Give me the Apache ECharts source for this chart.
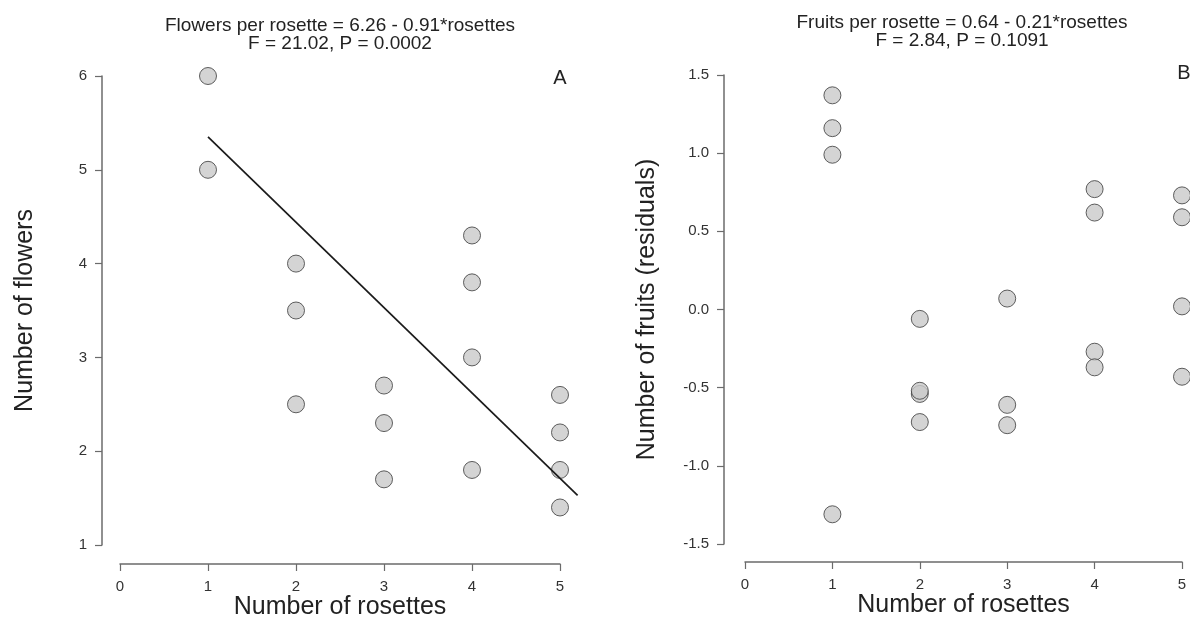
<!DOCTYPE html>
<html>
<head>
<meta charset="utf-8">
<script src="https://cdn.jsdelivr.net/npm/echarts@6/dist/echarts.min.js"></script>
<style>
  html, body { margin: 0; padding: 0; background: #fff; }
  #chart { width: 1190px; height: 617px; }
</style>
</head>
<body>
<div id="chart"></div>
<script>
// Panel A: flowers per rosette
const rosettesA = [1, 1, 2, 2, 2, 3, 3, 3, 4, 4, 4, 4, 5, 5, 5, 5];
const flowers = [6, 5, 4, 3.5, 2.5, 2.7, 2.3, 1.7, 4.3, 3.8, 3.0, 1.8, 2.6, 2.2, 1.8, 1.4];
// fitted line endpoints
const fitX = [1, 5.2];
const fitY = [5.35, 1.53];

// Panel B: fruit residuals
const rosettesB = [1, 1, 1, 1, 2, 2, 2, 2, 3, 3, 3, 4, 4, 4, 4, 5, 5, 5, 5];
const fruitsResid = [1.37, 1.16, 0.99, -1.31, -0.06, -0.54, -0.52, -0.72, 0.07, -0.61, -0.74, 0.77, 0.62, -0.27, -0.37, 0.73, 0.59, 0.02, -0.43];

// axis ranges / tick labels
const xTicks = [0, 1, 2, 3, 4, 5];
const yTicksA = [1, 2, 3, 4, 5, 6];
const yTicksB = [-1.5, -1.0, -0.5, 0.0, 0.5, 1.0, 1.5];

const titlesA = ['Flowers per rosette = 6.26 - 0.91*rosettes', 'F = 21.02, P = 0.0002'];
const titlesB = ['Fruits per rosette = 0.64 - 0.21*rosettes', 'F = 2.84, P = 0.1091'];

const font = 'Liberation Sans, Arial, sans-serif';
const axisColor = '#6b6b6b';

function pairs(xs, ys) {
  return xs.map((x, i) => [x, ys[i]]);
}

function xAxisFor(gridIndex, offset) {
  return {
    type: 'value', gridIndex: gridIndex,
    min: xTicks[0], max: xTicks[xTicks.length - 1], interval: 1,
    offset: offset,
    name: 'Number of rosettes', nameLocation: 'middle', nameGap: 31, nameMoveOverlap: false,
    nameTextStyle: { fontSize: 25, color: '#222', fontFamily: font },
    axisLine: { show: true, onZero: false, lineStyle: { color: axisColor, width: 1.5 } },
    axisTick: { show: true, length: 7, lineStyle: { color: axisColor, width: 1.2 } },
    axisLabel: { margin: 15, fontSize: 15, color: '#333', fontFamily: font },
    splitLine: { show: false }
  };
}

function yAxisFor(gridIndex, ticks, offset, name, fmt) {
  return {
    type: 'value', gridIndex: gridIndex,
    min: ticks[0], max: ticks[ticks.length - 1], interval: ticks[1] - ticks[0],
    offset: offset,
    name: name, nameLocation: 'middle', nameGap: 64, nameMoveOverlap: false,
    nameTextStyle: { fontSize: 25, color: '#222', fontFamily: font },
    axisLine: { show: true, onZero: false, lineStyle: { color: axisColor, width: 1.5 } },
    axisTick: { show: true, length: 7, lineStyle: { color: axisColor, width: 1.2 } },
    axisLabel: { margin: 15, fontSize: 15, color: '#333', fontFamily: font, formatter: fmt },
    splitLine: { show: false }
  };
}

// hidden axes for the overlay grid that carries the fitted line past x = 5
function hiddenAxis(gridIndex, min, max) {
  return {
    type: 'value', gridIndex: gridIndex, min: min, max: max,
    show: false, axisLine: { onZero: false }, splitLine: { show: false }
  };
}

const pointStyle = { color: '#c9c9c9', borderColor: '#3a3a3a', borderWidth: 1 };

function textEl(text, x, y, size) {
  return {
    type: 'text', x: x, y: y,
    style: { text: text, align: 'center', verticalAlign: 'middle', fontSize: size, fontFamily: font, fill: '#222' }
  };
}

const gridA = { left: 120, top: 76, width: 440, height: 469, outerBoundsMode: 'none', containLabel: false };
const gridB = { left: 745, top: 75, width: 437, height: 469, outerBoundsMode: 'none', containLabel: false };
// overlay grid: same scale as grid A, but reaching to x = 5.2
const gridFit = { left: 120, top: 76, width: 440 * 5.2 / 5, height: 469, outerBoundsMode: 'none', containLabel: false };

const chart = echarts.init(document.getElementById('chart'));
chart.setOption({
  animation: false,
  backgroundColor: '#fff',
  grid: [gridA, gridB, gridFit],
  xAxis: [xAxisFor(0, 19), xAxisFor(1, 18), hiddenAxis(2, 0, 5.2)],
  yAxis: [
    yAxisFor(0, yTicksA, 18, 'Number of flowers', v => String(v)),
    yAxisFor(1, yTicksB, 21, 'Number of fruits (residuals)', v => v.toFixed(1)),
    hiddenAxis(2, yTicksA[0], yTicksA[yTicksA.length - 1])
  ],
  graphic: [
    textEl(titlesA[0], 340, 26, 19),
    textEl(titlesA[1], 340, 44, 19),
    textEl(titlesB[0], 962, 23, 19),
    textEl(titlesB[1], 962, 41, 19),
    textEl('A', 560, 78, 20),
    textEl('B', 1184, 73, 20)
  ],
  series: [
    {
      type: 'scatter', xAxisIndex: 0, yAxisIndex: 0,
      data: pairs(rosettesA, flowers),
      symbol: 'circle', symbolSize: 17, clip: false,
      itemStyle: pointStyle, z: 2
    },
    {
      type: 'line', xAxisIndex: 2, yAxisIndex: 2,
      data: pairs(fitX, fitY),
      showSymbol: false, clip: false,
      lineStyle: { color: '#1a1a1a', width: 1.7 }, z: 3
    },
    {
      type: 'scatter', xAxisIndex: 1, yAxisIndex: 1,
      data: pairs(rosettesB, fruitsResid),
      symbol: 'circle', symbolSize: 17, clip: false,
      itemStyle: pointStyle, z: 2
    }
  ]
});
</script>
</body>
</html>
